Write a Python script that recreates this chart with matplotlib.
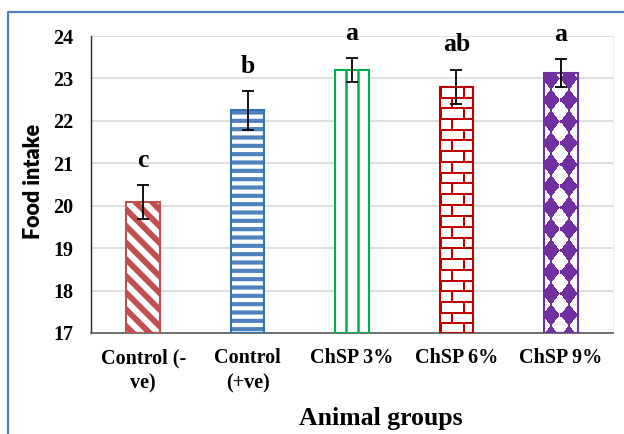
import numpy as np
import matplotlib

matplotlib.use("Agg")
import matplotlib.pyplot as plt
from matplotlib.colors import to_rgb
from matplotlib.lines import Line2D


groups = ["Control (-\nve)", "Control\n(+ve)", "ChSP 3%", "ChSP 6%", "ChSP 9%"]
food_intake = [20.08, 22.25, 23.19, 22.80, 23.12]
errors = [0.40, 0.46, 0.28, 0.41, 0.33]
letters = ["c", "b", "a", "ab", "a"]
y_ticks = [17, 18, 19, 20, 21, 22, 23, 24]

edge_colors = ["#C0504D", "#2E75B6", "#00B050", "#C00000", "#7030A0"]

SERIF = "Liberation Serif"
Y_MIN, Y_MAX = 17, 24
BAR_WIDTH = 0.32

fig = plt.figure(figsize=(6.24, 4.34), dpi=100)
ax = fig.add_axes([91 / 624, 101 / 434, 522 / 624, 297 / 434])
x = np.arange(len(groups))
heights = np.array(food_intake) - Y_MIN
ax.set_xlim(-0.5, len(groups) - 0.5)
ax.set_ylim(Y_MIN, Y_MAX)


def hatched_bar(i, hatch, hatch_lw, hatch_color):
    with plt.rc_context({"hatch.linewidth": hatch_lw}):
        bar = ax.bar(x[i], heights[i], bottom=Y_MIN, width=BAR_WIDTH, color="white",
                     edgecolor=hatch_color, linewidth=0, hatch=hatch, zorder=2)[0]
    if hasattr(bar, "set_hatch_linewidth"):
        bar.set_hatch_linewidth(hatch_lw)
    return bar


def textured_bar(i, painter, color):
    bar = ax.bar(x[i], heights[i], bottom=Y_MIN, width=BAR_WIDTH, color="white",
                 linewidth=0, zorder=2)[0]
    x0, y0 = bar.get_x(), bar.get_y()
    x1, y1 = x0 + bar.get_width(), y0 + bar.get_height()
    (px0, py0), (px1, py1) = ax.transData.transform([(x0, y0), (x1, y1)])
    w, h = int(round(px1 - px0)), int(round(py1 - py0))
    yy, xx = np.mgrid[0:h, 0:w] + 0.5
    mask = painter(xx, yy, w, h)
    img = np.ones((h, w, 4))
    img[mask, :3] = to_rgb(color)
    ax.imshow(img, extent=(x0, x1, y0, y1), origin="lower", interpolation="nearest",
              aspect="auto", zorder=2.1)


def bricks(xx, yy, w, h):
    t = h - yy
    row = np.floor(t / 10.7)
    mortar_h = (t % 10.7) < 2
    shift = (row % 2) * 11
    mortar_v = ((xx + shift) % 22) < 2
    return mortar_h | mortar_v


def diamonds(xx, yy, w, h):
    du = np.abs(((xx - 7) / 17 + 0.5) % 1 - 0.5)
    dv = np.abs(((yy - 18) / 21.5 + 0.5) % 1 - 0.5)
    return du + dv <= 0.52


# bar fills
hatched_bar(0, "\\\\", 4.2, "#C0504D")
hatched_bar(1, "--", 3.0, "#4F81BD")
ax.bar(x[2], heights[2], bottom=Y_MIN, width=BAR_WIDTH, color="white", linewidth=0, zorder=2)
for off in (-BAR_WIDTH / 6, BAR_WIDTH / 6):
    ax.vlines(x[2] + off, Y_MIN, food_intake[2], color="#00B050", lw=1.8, zorder=2.1)
textured_bar(3, bricks, "#C00000")
textured_bar(4, diamonds, "#7030A0")

# outlines
ax.bar(x, heights, bottom=Y_MIN, width=BAR_WIDTH, fill=False, edgecolor=edge_colors,
       linewidth=1.5, zorder=3)

ax.errorbar(x, food_intake, yerr=errors, fmt="none", ecolor="black", elinewidth=1.3,
            capsize=4.5, capthick=1.3, zorder=4)

for i, letter in enumerate(letters):
    ax.text(x[i], food_intake[i] + errors[i] + 0.58, letter, ha="center", va="center",
            fontsize=18.5, fontweight="bold", fontfamily=SERIF, zorder=5)

ax.set_xlim(-0.5, len(groups) - 0.5)
ax.set_ylim(Y_MIN, Y_MAX)
ax.set_yticks(y_ticks)
ax.set_xticks(x)
ax.set_xticklabels(groups, linespacing=1.35)
ax.tick_params(axis="y", length=0, pad=13)
ax.tick_params(axis="x", length=0, pad=11)
for lab in ax.get_xticklabels() + ax.get_yticklabels():
    lab.set_fontfamily(SERIF)
    lab.set_fontweight("bold")
    lab.set_fontsize(14.5)

ax.yaxis.grid(True, color="#D9D9D9", lw=1.2)
ax.set_axisbelow(True)
ax.spines["top"].set_visible(False)
ax.spines["right"].set_color("#E9EEF4")
ax.spines["left"].set_color("#262626")
ax.spines["left"].set_linewidth(1.0)
ax.spines["bottom"].set_color("#595959")
ax.spines["bottom"].set_linewidth(1.2)

ax.set_ylabel("Food intake", fontfamily="Lato", fontweight="heavy", fontsize=15.5)
ax.yaxis.set_label_coords(-0.111, 0.51)
ax.yaxis.label.set_va("center")
ax.set_xlabel("Animal groups", fontfamily=SERIF, fontweight="bold", fontsize=18.5)
ax.xaxis.set_label_coords((380.5 - 91) / 522, (333 - 418) / 297)
ax.xaxis.label.set_va("center")

fig.add_artist(Line2D([8 / 624, 8 / 624, 1], [0, 1 - 12 / 434, 1 - 12 / 434],
                      transform=fig.transFigure, color="#4F81BD", lw=1.6))

fig.savefig("out.png", dpi=100)
